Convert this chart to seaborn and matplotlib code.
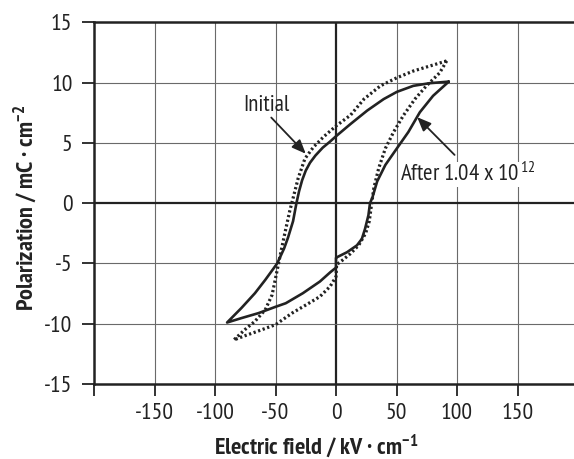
import matplotlib
matplotlib.use("Agg")
import matplotlib.pyplot as plt
import seaborn as sns
from matplotlib import font_manager

# ---------------- data ----------------
# "After 1.04 x 10^12" loop (solid), traced from the right tip clockwise
after_x = [93.2, 80.2, 69.3, 59.8, 50.3, 40.8, 34.0, 30.0, 28.1, 26.8, 24.0, 21.4, 17.3, 9.1, 0.9, 0.0,
           0.0, -4.6, -13.3, -27.4, -41.5, -50.0, -64.0, -78.0, -90.0,
           -78.2, -67.0, -58.5, -48.6, -42.9, -39.7, -35.5, -32.7, -30.5, -28.0, -25.0, -21.5, -17.0, -11.0, -5.0, 0.0,
           12.2, 25.8, 39.4, 50.3, 63.9, 77.4, 93.2]
after_y = [10.08, 8.9, 7.54, 5.9, 4.54, 3.17, 1.8, 0.44, 0.0, -1.0, -2.13, -2.96, -3.5, -4.07, -4.48, -4.55,
           -5.35, -5.72, -6.5, -7.47, -8.3, -8.6, -9.12, -9.53, -9.9,
           -8.7, -7.47, -6.37, -5.0, -3.76, -2.87, -1.5, 0.0, 1.0, 1.9, 2.7, 3.35, 3.95, 4.6, 5.1, 5.55,
           6.58, 7.68, 8.63, 9.23, 9.73, 9.95, 10.08]

# "Initial" loop (dotted)
init_x = [91.5, 85.6, 74.7, 65.2, 55.7, 47.6, 40.8, 35.3, 31.3, 29.5, 27.5, 24.5, 18.7, 11.8, 5.0, 0.5,
          0.0, -4.8, -13.3, -24.6, -36.0, -50.0, -64.1, -75.4, -84.5,
          -75.4, -67.0, -58.5, -52.8, -50.0, -47.2, -44.4, -42.5, -38.3, -35.5, -31.3, -25.7, -18.7, -10.3, 0.0,
          12.0, 23.1, 36.7, 50.3, 63.9, 77.4, 91.5]
init_y = [11.8, 10.8, 9.73, 8.63, 7.27, 5.9, 4.54, 2.9, 1.26, 0.0, -1.5, -2.5, -3.5, -4.2, -4.76, -5.1,
          -6.1, -6.9, -7.75, -8.43, -9.1, -10.08, -10.6, -11.0, -11.35,
          -10.5, -9.8, -8.85, -7.6, -6.24, -4.86, -3.5, -2.6, -0.68, 0.41, 2.05, 3.69, 4.64, 5.5, 6.4,
          7.3, 8.63, 9.73, 10.4, 10.96, 11.37, 11.8]

x_ticks = [-200, -150, -100, -50, 0, 50, 100, 150, 200]
x_tick_labels = ["", "-150", "-100", "-50", "0", "50", "100", "150", ""]
y_ticks = [-15, -10, -5, 0, 5, 10, 15]
y_tick_labels = ["-15", "-10", "-5", "0", "5", "10", "15"]

label_initial = "Initial"
label_after = "After 1.04 x 10$^{\\,12}$"
xlabel = "Electric field / kV \u00b7 cm$^{\\mathbf{-1}}$"
ylabel = "Polarization / mC \u00b7 cm$^{\\mathbf{-2}}$"

# ---------------- style ----------------
sns.set_theme(style="white")
avail = {f.name for f in font_manager.fontManager.ttflist}
FONT = "PT Sans Narrow" if "PT Sans Narrow" in avail else "Liberation Sans"
S = 1.0 if FONT == "PT Sans Narrow" else 0.86
plt.rcParams["font.family"] = [FONT, "DejaVu Sans"]
plt.rcParams["mathtext.fontset"] = "custom"
plt.rcParams["mathtext.rm"] = FONT
plt.rcParams["mathtext.it"] = FONT + ":italic"
plt.rcParams["mathtext.bf"] = FONT + ":bold"
plt.rcParams["axes.unicode_minus"] = False

INK = "#222222"
GRID = "#6a6a6a"

fig = plt.figure(figsize=(5.74, 4.59), dpi=100)
ax = fig.add_axes([94 / 574, (459 - 384) / 459, 484 / 574, 361.7 / 459])

ax.set_xlim(-200, 200)
ax.set_ylim(-15, 15)

# grid
for xv in x_ticks[1:-1]:
    if xv == 0:
        ax.axvline(xv, color=INK, lw=1.6, zorder=1)
    else:
        ax.axvline(xv, color=GRID, lw=0.8, zorder=1)
for yv in y_ticks[1:-1]:
    if yv == 0:
        ax.axhline(yv, color=INK, lw=1.6, zorder=1)
    else:
        ax.axhline(yv, color=GRID, lw=0.8, zorder=1)

# curves
sns.lineplot(x=after_x, y=after_y, sort=False, estimator=None, ax=ax,
             color=INK, lw=1.9, zorder=3)
sns.lineplot(x=init_x, y=init_y, sort=False, estimator=None, ax=ax,
             color=INK, lw=2.3, zorder=3)
dot_line = ax.lines[-1]
dot_line.set_linestyle((0, (0.7, 0.8)))
dot_line.set_dash_capstyle("butt")

# annotations
arrow = dict(arrowstyle="-|>,head_length=0.6,head_width=0.25", mutation_scale=14,
             lw=1.3, color=INK, shrinkA=0, shrinkB=0)
ax.annotate("", xy=(-25.0, 4.1), xytext=(-53.5, 7.1), arrowprops=arrow, zorder=4)
ax.annotate("", xy=(67.1, 7.13), xytext=(98.0, 4.0), arrowprops=arrow, zorder=4)
ax.text(-57.7, 7.68, label_initial, ha="center", va="baseline", fontsize=16.5 * S, color=INK, zorder=5)
ax.text(52.5, 1.85, label_after, ha="left", va="baseline", fontsize=16.5 * S, color=INK, zorder=5,
        bbox=dict(facecolor="white", edgecolor="none", pad=0.5))

# axes decoration
ax.set_xticks(x_ticks)
ax.set_xticklabels(x_tick_labels)
ax.set_yticks(y_ticks)
ax.set_yticklabels(y_tick_labels)
ax.tick_params(axis="both", direction="out", length=8.5, width=1.3, color=INK,
               labelsize=17 * S, labelcolor=INK, bottom=True, left=True)
ax.tick_params(axis="x", pad=5)
ax.tick_params(axis="y", pad=7)

for side in ["left", "top", "bottom"]:
    ax.spines[side].set_visible(True)
    ax.spines[side].set_color(INK)
    ax.spines[side].set_linewidth(1.8)
ax.spines["right"].set_visible(False)

ax.set_xlabel(xlabel, fontsize=17.5 * S, fontweight="bold", color=INK, va="center")
ax.xaxis.set_label_coords(0.459, -0.172)
ax.set_ylabel(ylabel, fontsize=17.5 * S, fontweight="bold", color=INK, va="center")
ax.yaxis.set_label_coords(-0.1426, 0.487)

fig.savefig("out.png", dpi=100)
